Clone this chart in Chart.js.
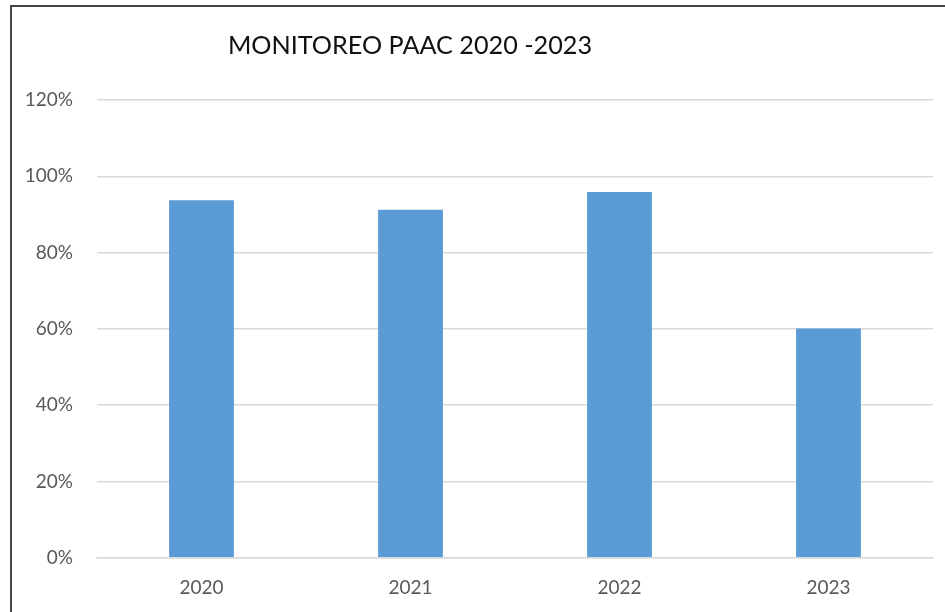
<!DOCTYPE html>
<html>
<head>
<meta charset="utf-8">
<script src="https://cdn.jsdelivr.net/npm/chart.js@4"></script>
<style>
  html, body { margin: 0; padding: 0; background: #fff; }
  .wrap { position: absolute; left: 0; top: 0; width: 945px; height: 612px; }
  .frame {
    position: absolute; left: 10px; top: 5px; width: 1000px; height: 1000px;
    border: 2.5px solid #454545; pointer-events: none;
  }
  .title {
    position: absolute; left: 410px; top: 44px; transform: translate(-50%, -50%);
    font-family: Lato, sans-serif; font-size: 25.2px; color: #111; white-space: nowrap;
  }
</style>
</head>
<body>
<div class="wrap">
  <canvas id="chart"></canvas>
</div>
<div class="frame"></div>
<div class="title">MONITOREO PAAC 2020 -2023</div>
<script>
const years = ['2020', '2021', '2022', '2023'];
const values = [0.937, 0.912, 0.959, 0.601];
const yTicks = [0, 0.2, 0.4, 0.6, 0.8, 1.0, 1.2];

const tickFont = { family: 'Lato, sans-serif', size: 19 };

new Chart(document.getElementById('chart'), {
  type: 'bar',
  data: {
    labels: years,
    datasets: [{
      data: values,
      backgroundColor: '#5b9bd5',
      borderWidth: 0,
      categoryPercentage: 1,
      barPercentage: 0.31
    }]
  },
  options: {
    responsive: true,
    maintainAspectRatio: false,
    animation: false,
    layout: { padding: { top: 100, right: 12, left: 0, bottom: 0 } },
    plugins: {
      legend: { display: false },
      tooltip: { enabled: false },
      title: { display: false }
    },
    scales: {
      x: {
        grid: { display: false },
        border: { display: true, color: '#d9d9d9', width: 1.5 },
        ticks: { color: '#595959', font: tickFont, padding: 11 },
        afterFit: (scale) => { scale.height = 612 - 557.7; }
      },
      y: {
        min: 0,
        max: 1.2,
        afterBuildTicks: (scale) => { scale.ticks = yTicks.map(v => ({ value: v })); },
        grid: { color: '#d9d9d9', lineWidth: 1.5, drawTicks: false },
        border: { display: false },
        ticks: {
          color: '#595959',
          font: tickFont,
          padding: 24,
          callback: (v) => Math.round(v * 100) + '%'
        },
        afterFit: (scale) => { scale.width = 97; }
      }
    }
  }
});
</script>
</body>
</html>
